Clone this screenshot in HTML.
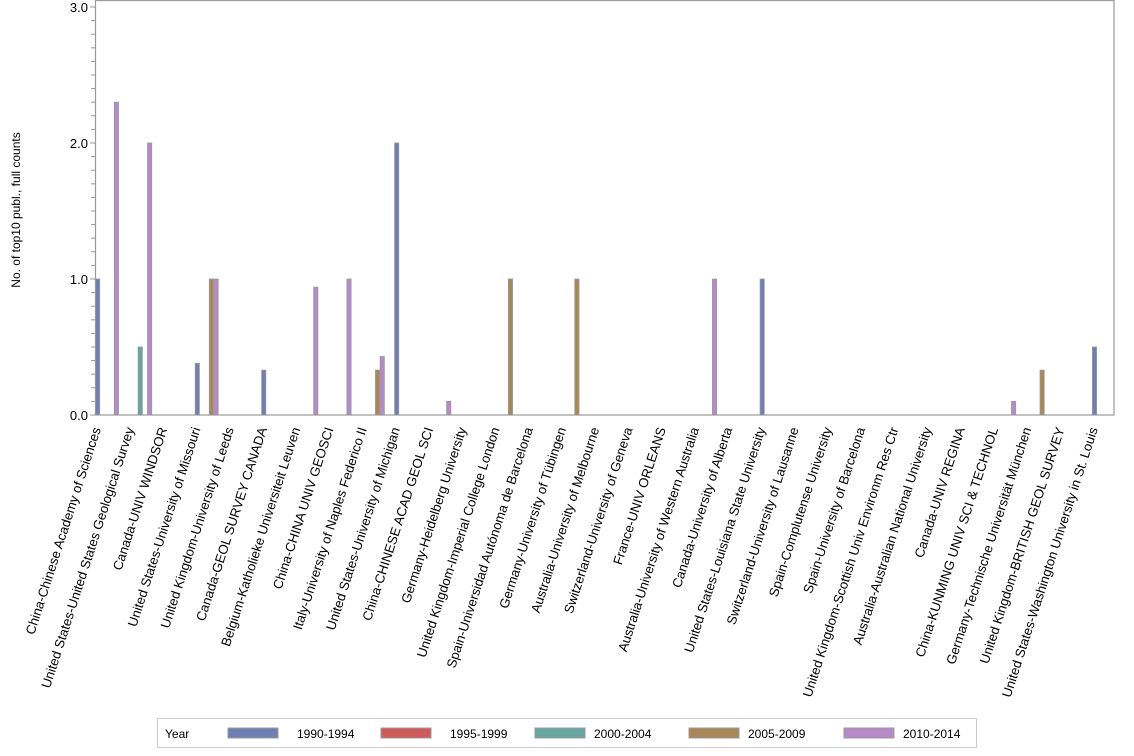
<!DOCTYPE html>
<html><head><meta charset="utf-8"><style>
html,body{margin:0;padding:0;background:#fff;}
svg{display:block;font-family:"Liberation Sans",Arial,sans-serif;}
</style></head><body>
<svg width="1134" height="756" viewBox="0 0 1134 756" xmlns="http://www.w3.org/2000/svg">
<rect x="0" y="0" width="1134" height="756" fill="#fff"/>
<g id="ticks" stroke="#999" stroke-width="1"></g>
<g id="bars"></g>
<rect x="95.5" y="0.5" width="1018.5" height="414.5" fill="none" stroke="#999" stroke-width="1.2"/>
<g font-size="13" fill="#000" text-anchor="end">
<text x="88" y="12">3.0</text>
<text x="88" y="148">2.0</text>
<text x="88" y="284">1.0</text>
<text x="88" y="420">0.0</text>
</g>
<text transform="translate(20,210) rotate(-90)" font-size="12" text-anchor="middle">No. of top10 publ., full counts</text>
<g id="labels" font-size="13.2" text-anchor="end"></g>
<rect x="157.5" y="718.5" width="819" height="29" fill="#fff" stroke="#ccc"/>
<text x="165" y="738" font-size="12">Year</text>
<g font-size="12">
<rect x="228" y="728" width="50" height="10" fill="#6f7eb3" stroke="#999"/><text x="297" y="738">1990-1994</text>
<rect x="381" y="728" width="50" height="10" fill="#d05b5b" stroke="#999"/><text x="450" y="738">1995-1999</text>
<rect x="535" y="728" width="50" height="10" fill="#66a5a0" stroke="#999"/><text x="594" y="738">2000-2004</text>
<rect x="689" y="728" width="50" height="10" fill="#a98758" stroke="#999"/><text x="748" y="738">2005-2009</text>
<rect x="844" y="728" width="50" height="10" fill="#b689c9" stroke="#999"/><text x="903" y="738">2010-2014</text>
</g>
<script>
(function(){
var ns="http://www.w3.org/2000/svg";
var t=document.getElementById("ticks");
for(var i=0;i<=30;i++){var y=415-i*13.6;var l=document.createElementNS(ns,"line");
l.setAttribute("x1",i%10==0?90:91);l.setAttribute("x2",95.5);l.setAttribute("y1",y);l.setAttribute("y2",y);t.appendChild(l);}
var cols=["#6f7eb3","#d05b5b","#66a5a0","#a98758","#b689c9"];
var data=[[0,0,1.0],[0,4,2.3],[1,2,0.5],[1,4,2.0],[3,0,0.38],[3,3,1],[3,4,1],[5,0,0.33],[6,4,0.94],[7,4,1.0],[8,3,0.33],[8,4,0.43],[9,0,2.0],[10,4,0.1],[12,3,1],[14,3,1],[18,4,1],[20,0,1],[27,4,0.1],[28,3,0.33],[30,0,0.5]];
var b=document.getElementById("bars");
data.forEach(function(d){var x=95.5+33.23*d[0]+4.7*d[1];var h=d[2]*136;var r=document.createElementNS(ns,"rect");
r.setAttribute("x",x);r.setAttribute("y",415-h);r.setAttribute("width",4.2);r.setAttribute("height",h);
r.setAttribute("fill",cols[d[1]]);r.setAttribute("stroke","#999");r.setAttribute("stroke-width","0.8");b.appendChild(r);});
var names=["China-Chinese Academy of Sciences","United States-United States Geological Survey","Canada-UNIV WINDSOR","United States-University of Missouri","United Kingdom-University of Leeds","Canada-GEOL SURVEY CANADA","Belgium-Katholieke Universiteit Leuven","China-CHINA UNIV GEOSCI","Italy-University of Naples Federico II","United States-University of Michigan","China-CHINESE ACAD GEOL SCI","Germany-Heidelberg University","United Kingdom-Imperial College London","Spain-Universidad Autónoma de Barcelona","Germany-University of Tübingen","Australia-University of Melbourne","Switzerland-University of Geneva","France-UNIV ORLEANS","Australia-University of Western Australia","Canada-University of Alberta","United States-Louisiana State University","Switzerland-University of Lausanne","Spain-Complutense University","Spain-University of Barcelona","United Kingdom-Scottish Univ Environm Res Ctr","Australia-Australian National University","Canada-UNIV REGINA","China-KUNMING UNIV SCI & TECHNOL","Germany-Technische Universität München","United Kingdom-BRITISH GEOL SURVEY","United States-Washington University in St. Louis"];
var g=document.getElementById("labels");
names.forEach(function(n,i){var x=95+33.23*i+6;var tx=document.createElementNS(ns,"text");
tx.setAttribute("transform","translate("+x+",429) rotate(-72)");tx.textContent=n;g.appendChild(tx);});
})();
</script>
</svg>
</body></html>
